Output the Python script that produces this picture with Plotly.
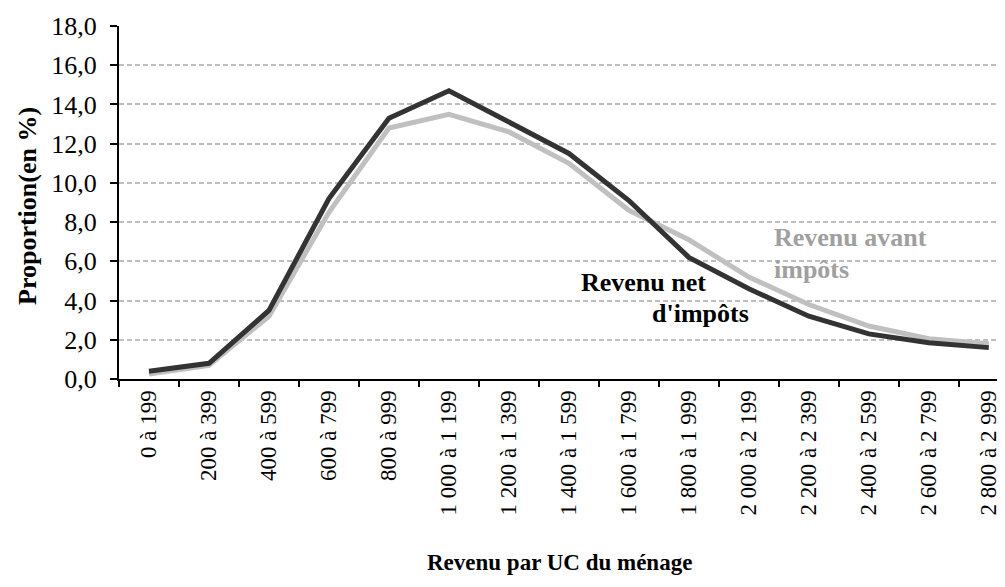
import plotly.graph_objects as go

categories = ["0 à 199", "200 à 399", "400 à 599", "600 à 799", "800 à 999",
              "1 000 à 1 199", "1 200 à 1 399", "1 400 à 1 599", "1 600 à 1 799",
              "1 800 à 1 999", "2 000 à 2 199", "2 200 à 2 399", "2 400 à 2 599",
              "2 600 à 2 799", "2 800 à 2 999"]
revenu_avant = [0.25, 0.7, 3.2, 8.5, 12.8, 13.5, 12.6, 11.0, 8.6, 7.1, 5.2, 3.8, 2.7, 2.05, 1.8]
revenu_net = [0.4, 0.8, 3.5, 9.2, 13.3, 14.7, 13.1, 11.5, 9.1, 6.2, 4.6, 3.2, 2.3, 1.85, 1.6]

FONT = "Liberation Serif"

fig = go.Figure()
fig.add_trace(go.Scatter(x=categories, y=revenu_avant, mode="lines",
                         line=dict(color="#c0c0c0", width=5), name="Revenu avant impôts"))
fig.add_trace(go.Scatter(x=categories, y=revenu_net, mode="lines",
                         line=dict(color="#333333", width=5), name="Revenu net d'impôts"))

# page has an 8px body margin: compensate so the plot lands where the reference has it
PLOT_H = 352.6
fig.update_layout(
    width=997, height=579,
    margin=dict(l=111, r=0, t=18, b=579 - 18 - PLOT_H),
    paper_bgcolor="white", plot_bgcolor="white",
    showlegend=False,
    separators=", ",
    font=dict(family=FONT, color="black"),
)
fig.update_xaxes(
    type="category", range=[-0.5, 14.27],
    tickson="boundaries", ticks="outside", ticklen=6, tickwidth=1.5, tickcolor="black",
    tickangle=-90, tickfont=dict(size=23, family=FONT, color="black"),
    showline=True, linecolor="black", linewidth=2, showgrid=False,
)
fig.update_yaxes(
    range=[0, 18], tickvals=[0, 2, 4, 6, 8, 10, 12, 14, 16, 18], tickformat=".1f",
    ticks="outside", ticklen=7, tickwidth=1.5, tickcolor="black",
    tickfont=dict(size=26, family=FONT, color="black"), ticklabelstandoff=8,
    showline=True, linecolor="black", linewidth=2,
    showgrid=True, gridcolor="#bfbfbf", gridwidth=1.5, griddash="5px,3px",
    zeroline=False,
)

W = 886.0
fig.add_annotation(text="<b>Proportion(en %)</b>", xref="paper", yref="paper",
                   x=(27 - 119) / W, y=(378.3 - 205.5) / PLOT_H, xanchor="center", yanchor="middle",
                   textangle=-90, showarrow=False,
                   font=dict(size=26, family=FONT, color="black"))
fig.add_annotation(text="<b>Revenu par UC du ménage</b>", xref="paper", yref="paper",
                   x=(559 - 119) / W, y=(378.3 - 562) / PLOT_H, xanchor="center", yanchor="middle",
                   showarrow=False,
                   font=dict(size=23, family=FONT, color="black"))
fig.add_annotation(text="<b>Revenu net</b>", xref="x", yref="y", x=8.25, y=4.92,
                   xanchor="center", yanchor="middle",
                   showarrow=False, font=dict(size=26, family=FONT, color="black"))
fig.add_annotation(text="<b>d'impôts</b>", xref="x", yref="y", x=9.2, y=3.33,
                   xanchor="center", yanchor="middle",
                   showarrow=False, font=dict(size=26, family=FONT, color="black"))
fig.add_annotation(text="<b>Revenu avant</b>", xref="x", yref="y", x=10.38, y=7.2,
                   xanchor="left", yanchor="middle", showarrow=False,
                   font=dict(size=26, family=FONT, color="#a0a0a0"))
fig.add_annotation(text="<b>impôts</b>", xref="x", yref="y", x=10.38, y=5.6,
                   xanchor="left", yanchor="middle", showarrow=False,
                   font=dict(size=26, family=FONT, color="#a0a0a0"))

fig.write_html("out.html")
